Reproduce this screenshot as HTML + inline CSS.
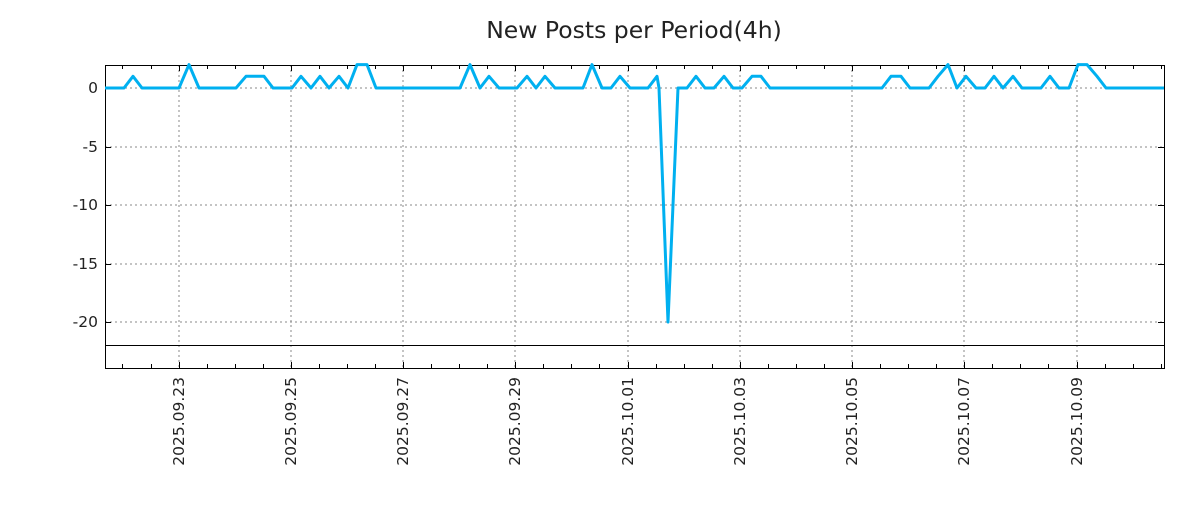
<!DOCTYPE html>
<html><head><style>body{margin:0;background:#fff}</style></head><body>
<svg width="1200" height="500" xmlns="http://www.w3.org/2000/svg" font-family="DejaVu Sans, sans-serif">
<rect width="1200" height="500" fill="#fff"/>
<text x="634" y="38" font-size="23.5" text-anchor="middle" fill="#222">New Posts per Period(4h)</text>
<g stroke="#888" stroke-dasharray="2,3" stroke-width="1">
<line x1="105" x2="1164" y1="147" y2="147"/><line x1="105" x2="1164" y1="205" y2="205"/>
<line x1="105" x2="1164" y1="264" y2="264"/><line x1="105" x2="1164" y1="322" y2="322"/>
<line x1="105" x2="1164" y1="88" y2="88"/>
<line x1="179" x2="179" y1="65" y2="368"/><line x1="291" x2="291" y1="65" y2="368"/>
<line x1="403" x2="403" y1="65" y2="368"/><line x1="515" x2="515" y1="65" y2="368"/>
<line x1="628" x2="628" y1="65" y2="368"/><line x1="740" x2="740" y1="65" y2="368"/>
<line x1="852" x2="852" y1="65" y2="368"/><line x1="964" x2="964" y1="65" y2="368"/>
<line x1="1077" x2="1077" y1="65" y2="368"/>
</g>
<line x1="105" x2="1164" y1="345.5" y2="345.5" stroke="#000" stroke-width="1"/>
<rect x="105.5" y="65.5" width="1059" height="303" fill="none" stroke="#000" stroke-width="1"/>
<g stroke="#000" stroke-width="1">
<path d="M122.5 65v4M151.5 65v4M179.5 65v6M207.5 65v4M235.5 65v4M263.5 65v4M291.5 65v6M319.5 65v4M347.5 65v4M375.5 65v4M403.5 65v6M431.5 65v4M459.5 65v4M487.5 65v4M515.5 65v6M543.5 65v4M571.5 65v4M599.5 65v4M628.5 65v6M656.5 65v4M684.5 65v4M712.5 65v4M740.5 65v6M768.5 65v4M796.5 65v4M824.5 65v4M852.5 65v6M880.5 65v4M908.5 65v4M936.5 65v4M964.5 65v6M992.5 65v4M1020.5 65v4M1048.5 65v4M1077.5 65v6M1105.5 65v4M1133.5 65v4M1161.5 65v4"/>
<path d="M122.5 368v-4M151.5 368v-4M179.5 368v-6M207.5 368v-4M235.5 368v-4M263.5 368v-4M291.5 368v-6M319.5 368v-4M347.5 368v-4M375.5 368v-4M403.5 368v-6M431.5 368v-4M459.5 368v-4M487.5 368v-4M515.5 368v-6M543.5 368v-4M571.5 368v-4M599.5 368v-4M628.5 368v-6M656.5 368v-4M684.5 368v-4M712.5 368v-4M740.5 368v-6M768.5 368v-4M796.5 368v-4M824.5 368v-4M852.5 368v-6M880.5 368v-4M908.5 368v-4M936.5 368v-4M964.5 368v-6M992.5 368v-4M1020.5 368v-4M1048.5 368v-4M1077.5 368v-6M1105.5 368v-4M1133.5 368v-4M1161.5 368v-4"/>
<path d="M105 88.5h6M105 147.5h6M105 205.5h6M105 264.5h6M105 322.5h6M1164 88.5h-6M1164 147.5h-6M1164 205.5h-6M1164 264.5h-6M1164 322.5h-6"/>
</g>
<g font-size="15.5" fill="#222" text-anchor="end">
<text x="98" y="93">0</text><text x="98" y="152">-5</text><text x="98" y="210">-10</text>
<text x="98" y="269">-15</text><text x="98" y="327">-20</text>
</g>
<g font-size="15.5" fill="#222" text-anchor="end">
<text transform="translate(184,377) rotate(-90)">2025.09.23</text>
<text transform="translate(296,377) rotate(-90)">2025.09.25</text>
<text transform="translate(408,377) rotate(-90)">2025.09.27</text>
<text transform="translate(520,377) rotate(-90)">2025.09.29</text>
<text transform="translate(633,377) rotate(-90)">2025.10.01</text>
<text transform="translate(745,377) rotate(-90)">2025.10.03</text>
<text transform="translate(857,377) rotate(-90)">2025.10.05</text>
<text transform="translate(969,377) rotate(-90)">2025.10.07</text>
<text transform="translate(1082,377) rotate(-90)">2025.10.09</text>
</g>
<polyline fill="none" stroke="#00b0f0" stroke-width="3" stroke-linejoin="round" points="
105,88 124,88 133,76.3 142,88 179,88 189,64.6 199,88 236,88 246,76.3 264,76.3 273,88 292,88 301,76.3 311,88 320,76.3 329,88 339,76.3 348,88 357,64.6 367,64.6 376,88 460,88 470,64.6 480,88 489,76.3 499,88 517,88 527,76.3 536,88 545,76.3 555,88 583,88 592,64.6 602,88 611,88 620,76.3 630,88 648,88 657,76.3 659,88 668,322 678,88 687,88 696,76.3 705,88 714,88 724,76.3 733,88 742,88 752,76.3 761,76.3 770,88 882,88 891,76.3 901,76.3 910,88 929,88 938,76.3 948,64.6 957,88 966,76.3 976,88 985,88 994,76.3 1003,88 1013,76.3 1022,88 1041,88 1050,76.3 1059,88 1069,88 1078,64.6 1087,64.6 1097,76.3 1106,88 1164,88"/>
</svg>
</body></html>
